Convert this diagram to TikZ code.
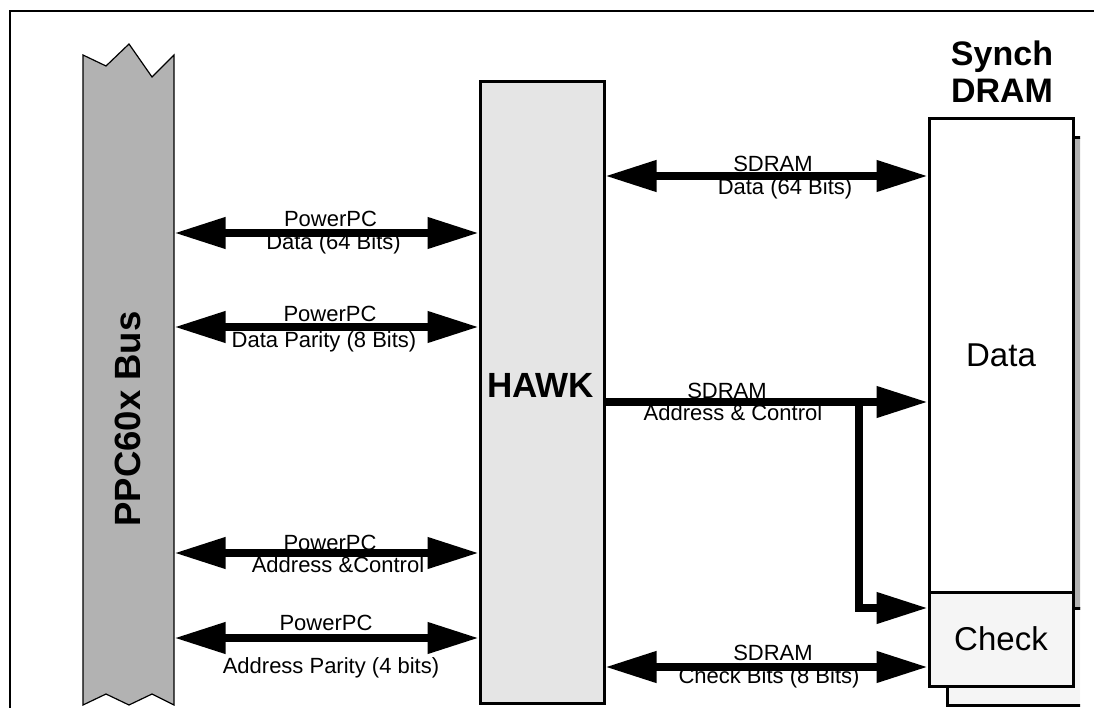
\documentclass[tikz,border=0pt]{standalone}
\usepackage{fontspec}
\setmainfont{Liberation Sans}
\usetikzlibrary{arrows.meta}

\begin{document}
\begin{tikzpicture}[x=1pt, y=-1pt,
    busline/.style={line width=7.5pt, line join=miter},
    wide/.style={busline, {Triangle[length=51pt,width=30pt]}-{Triangle[length=51pt,width=30pt]}},
    oneway/.style={busline, -{Triangle[length=51pt,width=30pt]}},
    lbl/.style={font=\fontsize{22}{24}\selectfont, anchor=base, inner sep=0pt},
    blk/.style={draw, line width=3pt, inner sep=0pt},
    bigtxt/.style={font=\fontsize{33}{36}\selectfont},
    bigbold/.style={font=\bfseries\fontsize{34}{40}\selectfont, inner sep=0pt}]

  \clip (0,0) rectangle (1094,708);
  % frame
  \draw[line width=2pt] (10,720) -- (10,11) -- (1100,11);

  % processor bus
  \draw[fill=black!30, line width=1.2pt] (83,55) -- (106,66) -- (129,44) -- (152,77) -- (174,55)
    -- (174,705) -- (152,694) -- (129,705) -- (106,694) -- (83,705) -- cycle;
  \coordinate (bus) at (174.6,400);
  \node[bigbold, font=\bfseries\fontsize{36.5}{40}\selectfont, rotate=90] (buslbl) at (128,419) {PPC60x Bus};

  % hawk
  \node[blk, fill=black!10, minimum width=124pt, minimum height=621pt] (hawk) at (542,392.5) {};
  \node[bigbold, font=\bfseries\fontsize{35}{40}\selectfont, anchor=base] (hawktxt) at (540.5,397) {HAWK};

  % sdram, second bank behind
  \begin{scope}
    \clip (0,0) rectangle (1080,708);
    \draw[line width=3pt, fill=black!30] (947,138) rectangle (1100,608);
    \draw[line width=3pt, fill=black!4] (947,608) rectangle (1100,705);
  \end{scope}
  \node[blk, fill=white, minimum width=144pt, minimum height=473pt, bigtxt] (data) at (1001,355.5) {Data};
  \node[blk, fill=black!4, minimum width=144pt, minimum height=94pt, bigtxt] (check) at (1001,639) {Check};
  \node[bigbold, anchor=base] (synch) at (1002,66) {Synch};
  \node[bigbold, anchor=base] (dram) at (1002,103) {DRAM};

  % powerpc side
  \draw[wide] (bus |- 0,233) -- (hawk.west |- 0,233);
  \draw[wide] (bus |- 0,327) -- (hawk.west |- 0,327);
  \draw[wide] (bus |- 0,553) -- (hawk.west |- 0,553);
  \draw[wide] (bus |- 0,638) -- (hawk.west |- 0,638);

  \node[lbl] (pd1) at (330.5,227) {PowerPC};
  \node[lbl] (pd2) at (333.5,250) {Data (64 Bits)};
  \node[lbl] (pp1) at (330,322) {PowerPC};
  \node[lbl] (pp2) at (324,347) {Data Parity (8 Bits)};
  \node[lbl] (pa1) at (330,550) {PowerPC};
  \node[lbl] (pa2) at (338,572) {Address \&Control};
  \node[lbl] (pq1) at (326,630) {PowerPC};
  \node[lbl] (pq2) at (331,673) {Address Parity (4 bits)};

  % sdram side
  \draw[wide] (hawk.east |- 0,176) -- (data.west |- 0,176);
  \draw[oneway] (hawk.east |- 0,402) -- (data.west |- 0,402);
  \coordinate (tap) at (859,402);
  \draw[oneway] (tap) -- (tap |- 0,608) -- (check.west |- 0,608);
  \draw[wide] (hawk.east |- 0,667) -- (check.west |- 0,667);

  \node[lbl] (sd1) at (773,172) {SDRAM};
  \node[lbl] (sd2) at (785,195) {Data (64 Bits)};
  \node[lbl] (sa1) at (727,398) {SDRAM};
  \node[lbl] (sa2) at (733,420) {Address \& Control};
  \node[lbl] (sc1) at (773,660) {SDRAM};
  \node[lbl] (sc2) at (769,683) {Check Bits (8 Bits)};
\end{tikzpicture}
\end{document}
